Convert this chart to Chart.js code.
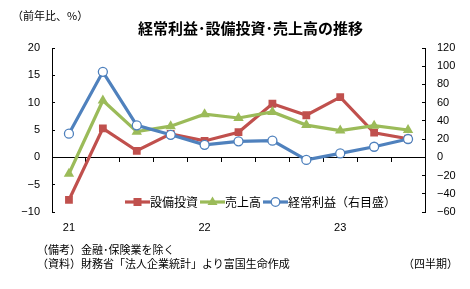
<!DOCTYPE html>
<html>
<head>
<meta charset="utf-8">
<script src="https://cdn.jsdelivr.net/npm/chart.js@4"></script>
<style>
  body { margin: 0; background: #fff; }
  #wrap { position: relative; width: 470px; height: 289px; font-family: "Noto Sans CJK JP", sans-serif; color: #000; }
  #chart { position: absolute; left: 0; top: 0; }
  .txt { position: absolute; white-space: nowrap; line-height: 1; }
  #title { left: 138px; top: 20px; font-size: 15px; font-weight: bold; }
  #unit { left: 12px; top: 10px; font-size: 11px; }
  #note1 { left: 37px; top: 244px; font-size: 11px; }
  #note2 { left: 37px; top: 258px; font-size: 11px; }
  #quarter { left: 403px; top: 258px; font-size: 11px; }
  #legend { position: absolute; left: 125px; top: 195px; display: flex; align-items: center; font-size: 12px; line-height: 14px; }
  #legend span { margin-right: 2px; }
  #legend svg { display: block; }
</style>
</head>
<body>
<div id="wrap">
  <canvas id="chart" width="470" height="289"></canvas>
  <div class="txt" id="unit">（前年比、%）</div>
  <div class="txt" id="title">経常利益･設備投資･売上高の推移</div>
  <div id="legend"></div>
  <div class="txt" id="note1">（備考）金融･保険業を除く</div>
  <div class="txt" id="note2">（資料）財務省「法人企業統計」より富国生命作成</div>
  <div class="txt" id="quarter">（四半期）</div>
</div>
<script>
const quarters = ['21Q1', '21Q2', '21Q3', '21Q4', '22Q1', '22Q2', '22Q3', '22Q4', '23Q1', '23Q2', '23Q3'];
const tickLabels = ['21', '', '', '', '22', '', '', '', '23', '', ''];
const seriesNames = ['設備投資', '売上高', '経常利益（右目盛）'];
const capex = [-7.8, 5.3, 1.2, 4.3, 3.0, 4.6, 9.8, 7.7, 11.0, 4.5, 3.4];
const sales = [-3.0, 10.4, 4.7, 5.7, 7.9, 7.2, 8.3, 5.9, 4.9, 5.8, 5.0];
const profit = [26.0, 93.9, 35.1, 24.7, 13.7, 17.6, 18.3, -2.8, 4.3, 11.6, 20.1];

const red = '#C0504D';
const green = '#9BBB59';
const blue = '#4F81BD';

const tickFont = { family: '"Liberation Sans", Arial, sans-serif', size: 11 };
const minus = v => String(v).replace('-', '\u2212');

const ctx = document.getElementById('chart').getContext('2d');

new Chart(ctx, {
    type: 'line',
    data: {
        labels: quarters,
        datasets: [{
            label: seriesNames[0],
            data: capex,
            yAxisID: 'y',
            borderColor: red,
            backgroundColor: red,
            borderWidth: 3.2,
            pointStyle: 'rect',
            pointRadius: 5.5,
            pointBorderWidth: 0,
            order: 3
        }, {
            label: seriesNames[1],
            data: sales,
            yAxisID: 'y',
            borderColor: green,
            backgroundColor: green,
            borderWidth: 3.2,
            pointStyle: 'triangle',
            pointRadius: 6,
            pointBorderWidth: 0,
            order: 2
        }, {
            label: seriesNames[2],
            data: profit,
            yAxisID: 'y1',
            borderColor: blue,
            backgroundColor: '#fff',
            borderWidth: 3.2,
            pointStyle: 'circle',
            pointRadius: 4.5,
            pointBorderWidth: 1.3,
            order: 1
        }]
    },
    options: {
        responsive: false,
        animation: false,
        devicePixelRatio: 1,
        layout: { padding: { top: 48, left: 0, right: 0, bottom: 0 } },
        plugins: { legend: { display: false }, tooltip: { enabled: false } },
        scales: {
            x: {
                position: 'bottom',
                offset: true,
                grid: { display: false },
                border: { display: false },
                ticks: {
                    autoSkip: false,
                    maxRotation: 0,
                    padding: 1,
                    color: '#000',
                    font: tickFont,
                    callback: (v, i) => tickLabels[i]
                },
                afterFit: s => { s.height = 77; }
            },
            x2: {
                type: 'category',
                position: { y: 0 },
                offset: true,
                grid: { offset: true, drawOnChartArea: false, tickLength: 4, color: '#000' },
                border: { color: '#000', width: 1 },
                ticks: { display: false }
            },
            y: {
                position: 'left',
                min: -10,
                max: 20,
                ticks: { stepSize: 5, padding: 15, color: '#000', font: tickFont, callback: minus },
                grid: { drawOnChartArea: false, tickLength: -3, color: '#000' },
                border: { color: '#000', width: 1 },
                afterFit: s => { s.width = 52; }
            },
            y1: {
                position: 'right',
                min: -60,
                max: 120,
                ticks: { stepSize: 20, padding: 15, color: '#000', font: tickFont, callback: minus },
                grid: { drawOnChartArea: false, tickLength: -3, color: '#000' },
                border: { color: '#000', width: 1 },
                afterFit: s => { s.width = 45; }
            }
        }
    }
});

// legend: line sample with marker, then name
const markers = [
    '<rect x="8.5" y="3" width="8" height="8" fill="' + red + '"/>',
    '<polygon points="12.5,1.5 17.5,10 7.5,10" fill="' + green + '"/>',
    '<circle cx="12.5" cy="7" r="4.3" fill="#fff" stroke="' + blue + '" stroke-width="1.3"/>'
];
const lineColors = [red, green, blue];
const legend = document.getElementById('legend');
for (let i = 0; i < seriesNames.length; i++) {
    legend.innerHTML += '<svg width="25" height="14"><line x1="0" y1="7" x2="25" y2="7" stroke="' + lineColors[i] +
        '" stroke-width="3.2"/>' + markers[i] + '</svg><span>' + seriesNames[i] + '</span>';
}
</script>
</body>
</html>
